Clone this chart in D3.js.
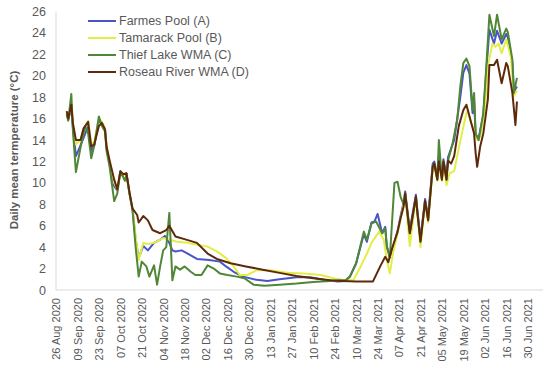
<!DOCTYPE html>
<html>
<head>
<meta charset="utf-8">
<script src="https://cdn.jsdelivr.net/npm/d3@7"></script>
<style>
  body { margin: 0; background: #fff; }
  text { font-family: "Liberation Sans", Arial, sans-serif; fill: #595959; }
</style>
</head>
<body>
<div id="svg-div"></div>
<script>
var width = 550;
var height = 371;

// daily mean temperature, [date, degC]
var farmes = [
  ["2020-09-02",16.5],["2020-09-03",15.9],["2020-09-05",17.0],["2020-09-06",15.2],["2020-09-08",12.5],["2020-09-11",13.5],
  ["2020-09-13",14.2],["2020-09-16",15.3],["2020-09-18",13.0],["2020-09-20",13.5],["2020-09-23",15.8],["2020-09-25",15.5],
  ["2020-09-27",15.0],["2020-09-28",13.3],["2020-09-30",11.8],["2020-10-03",9.7],["2020-10-05",9.3],["2020-10-07",11.0],
  ["2020-10-09",10.7],["2020-10-11",10.9],["2020-10-13",9.0],["2020-10-15",7.5],["2020-10-17",4.7],["2020-10-19",3.0],
  ["2020-10-22",4.1],["2020-10-25",3.7],["2020-10-29",4.4],["2020-11-02",4.7],["2020-11-05",5.05],["2020-11-08",4.4],
  ["2020-11-10",3.7],["2020-11-12",3.6],["2020-11-16",3.7],["2020-11-20",3.4],["2020-11-26",2.9],["2020-12-04",2.8],
  ["2020-12-11",2.65],["2020-12-15",2.2],["2020-12-20",1.7],["2020-12-26",1.25],["2021-01-04",0.95],["2021-01-11",0.85],
  ["2021-01-19",1.0],["2021-01-30",1.2],["2021-02-08",1.2],["2021-02-17",0.95],["2021-02-26",0.8],["2021-03-03",0.85],
  ["2021-03-06",1.3],["2021-03-10",2.5],["2021-03-15",5.2],["2021-03-17",4.5],["2021-03-20",6.3],["2021-03-22",6.4],
  ["2021-03-24",7.1],["2021-03-27",5.3],["2021-03-29",5.9],["2021-03-30",4.1],["2021-04-01",3.1],["2021-04-03",3.9],
  ["2021-04-06",5.5],["2021-04-08",6.9],["2021-04-10",8.2],["2021-04-11",9.2],["2021-04-14",5.6],["2021-04-18",8.9],
  ["2021-04-19",7.4],["2021-04-21",4.8],["2021-04-24",8.5],["2021-04-26",6.8],["2021-04-29",11.8],["2021-04-30",12.0],
  ["2021-05-02",10.6],["2021-05-03",12.6],["2021-05-05",10.5],["2021-05-06",12.2],["2021-05-08",10.6],["2021-05-09",12.4],
  ["2021-05-11",13.2],["2021-05-13",14.0],["2021-05-15",16.0],["2021-05-17",18.0],["2021-05-19",20.3],["2021-05-21",21.0],
  ["2021-05-23",20.2],["2021-05-25",16.5],["2021-05-26",17.8],["2021-05-27",14.5],["2021-05-29",14.2],["2021-06-01",16.3],
  ["2021-06-03",20.5],["2021-06-05",24.3],["2021-06-08",23.0],["2021-06-10",24.2],["2021-06-13",23.0],["2021-06-16",23.9],
  ["2021-06-17",23.6],["2021-06-20",21.2],["2021-06-21",18.5],["2021-06-23",19.0]
];

var tamarack = [
  ["2020-09-02",16.6],["2020-09-03",16.0],["2020-09-05",17.2],["2020-09-06",15.5],["2020-09-08",13.6],["2020-09-11",14.0],
  ["2020-09-13",15.0],["2020-09-16",15.8],["2020-09-18",13.6],["2020-09-20",13.8],["2020-09-23",16.0],["2020-09-25",15.7],
  ["2020-09-27",15.1],["2020-09-28",13.5],["2020-09-30",12.0],["2020-10-03",10.0],["2020-10-05",9.4],["2020-10-07",11.0],
  ["2020-10-09",10.7],["2020-10-11",10.8],["2020-10-13",9.0],["2020-10-15",7.5],["2020-10-17",5.0],["2020-10-19",2.8],
  ["2020-10-22",4.4],["2020-10-25",4.3],["2020-10-29",4.4],["2020-11-04",4.85],["2020-11-08",4.7],["2020-11-13",4.5],
  ["2020-11-20",4.4],["2020-11-27",4.2],["2020-12-03",4.05],["2020-12-09",3.6],["2020-12-15",3.0],["2020-12-20",2.2],
  ["2020-12-24",1.4],["2020-12-29",1.4],["2021-01-04",1.85],["2021-01-13",1.85],["2021-01-24",1.6],["2021-02-04",1.55],
  ["2021-02-15",1.4],["2021-02-23",1.1],["2021-03-01",0.95],["2021-03-08",0.9],["2021-03-13",2.2],["2021-03-17",3.4],
  ["2021-03-20",4.4],["2021-03-25",5.45],["2021-03-28",4.7],["2021-03-30",2.8],["2021-04-01",1.55],["2021-04-03",3.4],
  ["2021-04-06",5.3],["2021-04-08",6.6],["2021-04-10",8.0],["2021-04-11",8.9],["2021-04-14",4.1],["2021-04-18",8.6],
  ["2021-04-19",7.0],["2021-04-21",4.0],["2021-04-24",8.2],["2021-04-26",6.3],["2021-04-29",11.3],["2021-04-30",11.5],
  ["2021-05-02",10.2],["2021-05-03",11.8],["2021-05-05",10.2],["2021-05-06",11.8],["2021-05-08",9.8],["2021-05-10",10.9],
  ["2021-05-13",11.1],["2021-05-15",12.5],["2021-05-18",14.6],["2021-05-21",16.5],["2021-05-22",16.8],["2021-05-24",15.6],
  ["2021-05-26",15.0],["2021-05-28",14.0],["2021-05-30",14.3],["2021-06-02",16.8],["2021-06-04",20.9],["2021-06-07",23.0],
  ["2021-06-09",22.7],["2021-06-11",23.0],["2021-06-13",22.1],["2021-06-16",23.4],["2021-06-19",21.8],["2021-06-21",18.1],
  ["2021-06-23",18.6]
];

var thief = [
  ["2020-09-02",16.4],["2020-09-03",15.8],["2020-09-05",18.3],["2020-09-06",15.0],["2020-09-08",11.0],["2020-09-11",13.3],
  ["2020-09-14",15.3],["2020-09-16",14.6],["2020-09-18",12.3],["2020-09-20",13.5],["2020-09-23",16.2],["2020-09-25",15.3],
  ["2020-09-27",14.8],["2020-09-28",13.0],["2020-09-30",11.5],["2020-10-03",8.3],["2020-10-05",9.0],["2020-10-07",11.0],
  ["2020-10-09",10.5],["2020-10-10",10.2],["2020-10-11",10.8],["2020-10-13",9.0],["2020-10-15",7.4],["2020-10-17",4.0],
  ["2020-10-19",1.25],["2020-10-21",2.65],["2020-10-24",2.2],["2020-10-26",1.25],["2020-10-29",2.3],["2020-10-31",0.5],
  ["2020-11-02",2.2],["2020-11-04",3.7],["2020-11-06",4.0],["2020-11-08",7.2],["2020-11-10",0.9],["2020-11-12",2.2],
  ["2020-11-15",1.9],["2020-11-18",2.2],["2020-11-22",1.7],["2020-11-25",1.4],["2020-11-29",1.4],["2020-12-03",2.3],
  ["2020-12-07",2.0],["2020-12-11",1.55],["2020-12-16",1.4],["2020-12-22",1.25],["2020-12-27",1.1],["2021-01-02",0.5],
  ["2021-01-09",0.4],["2021-01-19",0.5],["2021-01-30",0.6],["2021-02-10",0.75],["2021-02-21",0.85],["2021-02-28",0.9],
  ["2021-03-03",0.9],["2021-03-06",1.25],["2021-03-10",2.5],["2021-03-15",5.45],["2021-03-17",4.7],["2021-03-20",6.2],
  ["2021-03-23",6.4],["2021-03-27",5.3],["2021-03-29",5.75],["2021-03-30",4.05],["2021-04-01",3.0],["2021-04-04",10.0],
  ["2021-04-06",10.1],["2021-04-08",8.7],["2021-04-10",8.0],["2021-04-11",9.0],["2021-04-14",5.3],["2021-04-18",8.7],
  ["2021-04-19",7.2],["2021-04-21",4.6],["2021-04-24",8.3],["2021-04-26",6.6],["2021-04-29",11.6],["2021-04-30",11.8],
  ["2021-05-02",10.3],["2021-05-03",14.0],["2021-05-05",10.3],["2021-05-06",12.0],["2021-05-08",10.3],["2021-05-09",12.1],
  ["2021-05-12",13.7],["2021-05-15",15.9],["2021-05-17",19.0],["2021-05-19",21.2],["2021-05-21",21.6],["2021-05-23",20.9],
  ["2021-05-25",16.8],["2021-05-26",18.4],["2021-05-27",14.6],["2021-05-29",14.0],["2021-06-01",16.5],["2021-06-03",20.9],
  ["2021-06-05",25.7],["2021-06-08",23.7],["2021-06-10",25.7],["2021-06-13",23.4],["2021-06-16",24.4],["2021-06-17",24.1],
  ["2021-06-20",21.5],["2021-06-21",18.4],["2021-06-23",19.8]
];

var roseau = [
  ["2020-09-02",16.7],["2020-09-03",16.0],["2020-09-05",17.3],["2020-09-06",15.6],["2020-09-08",14.0],["2020-09-11",14.0],
  ["2020-09-13",15.1],["2020-09-16",15.7],["2020-09-18",13.4],["2020-09-20",13.6],["2020-09-23",15.3],["2020-09-25",15.6],
  ["2020-09-27",15.0],["2020-09-28",13.4],["2020-09-30",12.1],["2020-10-03",10.3],["2020-10-05",9.4],["2020-10-07",11.1],
  ["2020-10-09",10.8],["2020-10-11",10.9],["2020-10-13",9.1],["2020-10-15",7.6],["2020-10-18",7.0],["2020-10-19",6.3],
  ["2020-10-22",6.9],["2020-10-25",6.5],["2020-10-28",5.6],["2020-11-02",5.3],["2020-11-06",5.6],["2020-11-08",6.0],
  ["2020-11-12",5.0],["2020-11-19",4.7],["2020-11-26",4.4],["2020-12-03",3.4],["2020-12-09",2.9],["2020-12-18",2.5],
  ["2020-12-28",2.2],["2021-01-08",1.9],["2021-01-19",1.6],["2021-01-30",1.3],["2021-02-10",1.1],["2021-02-21",0.9],
  ["2021-03-01",0.85],["2021-03-10",0.8],["2021-03-21",0.8],["2021-03-26",2.3],["2021-03-29",3.1],["2021-03-31",2.6],
  ["2021-04-02",3.7],["2021-04-06",5.4],["2021-04-08",6.7],["2021-04-10",7.8],["2021-04-11",9.0],["2021-04-14",5.3],
  ["2021-04-18",8.7],["2021-04-19",7.2],["2021-04-21",4.5],["2021-04-24",8.3],["2021-04-26",6.5],["2021-04-29",11.5],
  ["2021-04-30",11.8],["2021-05-02",10.3],["2021-05-03",12.0],["2021-05-05",10.3],["2021-05-06",12.0],["2021-05-08",10.3],
  ["2021-05-09",12.1],["2021-05-11",11.8],["2021-05-13",12.5],["2021-05-16",15.3],["2021-05-19",16.8],["2021-05-21",17.3],
  ["2021-05-23",16.2],["2021-05-26",14.6],["2021-05-27",12.8],["2021-05-28",11.5],["2021-05-30",13.4],["2021-06-01",14.6],
  ["2021-06-04",17.8],["2021-06-05",21.0],["2021-06-08",21.0],["2021-06-10",21.5],["2021-06-13",19.3],["2021-06-16",21.2],
  ["2021-06-17",20.9],["2021-06-20",18.4],["2021-06-22",15.4],["2021-06-23",17.6]
];

var seriesNames = ["Farmes Pool (A)", "Tamarack Pool (B)", "Thief Lake WMA (C)", "Roseau River WMA (D)"];
var seriesColors = ["#4a54c6", "#e2ee46", "#4f8736", "#5e2a0b"];
var yTicks = [0, 2, 4, 6, 8, 10, 12, 14, 16, 18, 20, 22, 24, 26];
var xStart = "2020-08-26";
var xEnd = "2021-07-10";
var xStepDays = 14;

var parse = d3.timeParse("%Y-%m-%d");
var allSeries = [farmes, tamarack, thief, roseau];

var svg = d3.select("#svg-div").append("svg")
    .attr("width", width).attr("height", height);

var x = d3.scaleTime().domain([parse(xStart), parse(xEnd)]).range([56, 543]);
var y = d3.scaleLinear().domain([0, 26]).range([290, 11.5]);

var xTickValues = [];
for (var t = parse(xStart); t <= parse("2021-06-30"); t = d3.timeDay.offset(t, xStepDays)) {
  xTickValues.push(t);
}

// axis lines
svg.append("line")
   .attr("x1", x.range()[0]).attr("x2", x.range()[0])
   .attr("y1", y(26)).attr("y2", y(0))
   .style("stroke", "#d9d9d9").style("stroke-width", 1);
svg.append("line")
   .attr("x1", x.range()[0]).attr("x2", x.range()[1])
   .attr("y1", y(0)).attr("y2", y(0))
   .style("stroke", "#d9d9d9").style("stroke-width", 1);

// y tick labels
var yAxis = svg.append("g")
   .attr("transform", "translate(" + x.range()[0] + ",0)")
   .call(d3.axisLeft(y).tickValues(yTicks).tickSize(0).tickPadding(10));
yAxis.select(".domain").remove();
yAxis.selectAll("text").style("font-size", "12.5px").style("fill", "#595959")
   .style("font-family", "Liberation Sans, Arial, sans-serif");

// x tick labels, rotated
var xAxis = svg.append("g")
   .attr("transform", "translate(0," + y(0) + ")")
   .call(d3.axisBottom(x).tickValues(xTickValues).tickSize(0).tickFormat(d3.timeFormat("%d %b %Y")));
xAxis.select(".domain").remove();
xAxis.selectAll("text")
   .attr("transform", "rotate(-90)")
   .attr("x", -8).attr("y", 0).attr("dy", "0.35em")
   .style("text-anchor", "end")
   .style("font-size", "11px").style("fill", "#595959")
   .style("font-family", "Liberation Sans, Arial, sans-serif");

// y axis title
svg.append("text")
   .attr("transform", "translate(18,150) rotate(-90)")
   .attr("text-anchor", "middle")
   .style("font-size", "11.5px").style("font-weight", "bold")
   .style("fill", "#595959")
   .text("Daily mean termperature (\u00B0C)");

var line = d3.line()
   .x(function(d) { return x(parse(d[0])); })
   .y(function(d) { return y(d[1]); });

allSeries.forEach(function(s, i) {
  svg.append("path")
     .datum(s)
     .attr("d", line)
     .style("fill", "none")
     .style("stroke", seriesColors[i])
     .style("stroke-width", 2)
     .style("stroke-linejoin", "round");
});

// legend
var legend = svg.append("g").attr("transform", "translate(88,21)");
seriesNames.forEach(function(name, i) {
  var row = legend.append("g").attr("transform", "translate(0," + (i * 17) + ")");
  row.append("line")
     .attr("x1", 0).attr("x2", 28).attr("y1", 0).attr("y2", 0)
     .style("stroke", seriesColors[i]).style("stroke-width", 2);
  row.append("text")
     .attr("x", 31).attr("y", 0).attr("dy", "0.35em")
     .style("font-size", "12.5px").style("fill", "#595959")
     .text(name);
});
</script>
</body>
</html>
